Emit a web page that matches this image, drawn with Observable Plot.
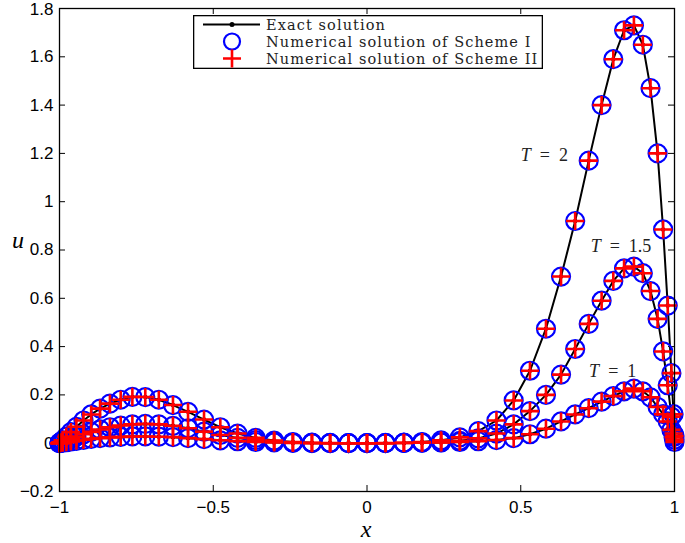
<!DOCTYPE html>
<html>
<head>
<meta charset="utf-8">
<script src="https://cdn.jsdelivr.net/npm/d3@7"></script>
<script src="https://cdn.jsdelivr.net/npm/@observablehq/plot@0.6"></script>
<style>
  body { margin: 0; background: #fff; }
  #wrap { position: relative; width: 685px; height: 543px; overflow: hidden; background: #fff; }
  .atitle { position: absolute; font-family: "Liberation Serif", "Times New Roman", serif; font-style: italic; font-size: 24px; line-height: 1; transform: translate(-50%, -50%); color: #000; }
  #legend { position: absolute; left: 193px; top: 15px; }
</style>
</head>
<body>
<div id="wrap"></div>
<script>
// ---- data ----
const xNodes = [-1, -0.997, -0.990, -0.978, -0.963, -0.945, -0.922, -0.897, -0.868, -0.836, -0.801, -0.763, -0.721,
  -0.677, -0.631, -0.582, -0.530, -0.477, -0.421, -0.362, -0.302, -0.241, -0.179, -0.120, -0.060, 0,
  0.060, 0.120, 0.179, 0.241, 0.302, 0.362, 0.421, 0.477, 0.530, 0.582, 0.631, 0.677, 0.721, 0.763,
  0.801, 0.836, 0.868, 0.897, 0.922, 0.945, 0.963, 0.978, 0.990, 0.997, 1];

const uT1 = [0, 0.001, 0.002, 0.004, 0.007, 0.010, 0.014, 0.018, 0.021, 0.024, 0.026, 0.028, 0.028,
  0.027, 0.025, 0.021, 0.017, 0.012, 0.008, 0.005, 0.003, 0.001, 0.000, 0.000, 0.000, 0,
  0.000, 0.001, 0.002, 0.003, 0.005, 0.008, 0.013, 0.021, 0.037, 0.060, 0.090, 0.119, 0.145, 0.172,
  0.195, 0.215, 0.226, 0.215, 0.190, 0.150, 0.120, 0.090, 0.055, 0.025, 0.005];

const uT15 = [0, 0.002, 0.005, 0.011, 0.018, 0.027, 0.037, 0.047, 0.057, 0.066, 0.073, 0.078, 0.080,
  0.078, 0.072, 0.062, 0.048, 0.034, 0.022, 0.013, 0.007, 0.003, 0.001, 0.000, 0.000, 0,
  0.000, 0.001, 0.002, 0.004, 0.010, 0.020, 0.040, 0.078, 0.133, 0.200, 0.284, 0.390, 0.494, 0.590,
  0.672, 0.724, 0.731, 0.704, 0.630, 0.515, 0.380, 0.240, 0.110, 0.040, 0.015];

const uT2 = [0, 0.004, 0.012, 0.027, 0.046, 0.068, 0.094, 0.119, 0.143, 0.164, 0.180, 0.192, 0.191,
  0.180, 0.158, 0.130, 0.098, 0.066, 0.040, 0.022, 0.011, 0.005, 0.002, 0.001, 0.000, 0,
  0.001, 0.002, 0.005, 0.012, 0.024, 0.050, 0.094, 0.177, 0.300, 0.474, 0.690, 0.920, 1.170, 1.400,
  1.590, 1.710, 1.730, 1.650, 1.470, 1.200, 0.885, 0.570, 0.290, 0.120, 0.030];

const seriesNames = ["1", "1.5", "2"];
const xTicks = [-1, -0.5, 0, 0.5, 1];
const yTicks = [-0.2, 0, 0.2, 0.4, 0.6, 0.8, 1, 1.2, 1.4, 1.6, 1.8];

const annotLabels = ["T = 1", "T = 1.5", "T = 2"];
const annotX = [0.799, 0.826, 0.577];
const annotY = [0.297, 0.814, 1.194];

const legendLabels = ["Exact solution", "Numerical solution of Scheme I", "Numerical solution of Scheme II"];

// ---- build ----
const W = 685, H = 543, mL = 59, mR = 11, mT = 8, mB = 52;
const innerW = W - mL - mR, innerH = H - mT - mB;
const serif = '"Liberation Serif", "Times New Roman", serif';
const legSerif = '"DejaVu Serif", "Liberation Serif", serif';
const fmt = d3.format("~g");

const rows = [];
[uT1, uT15, uT2].forEach((arr, k) => arr.forEach((u, i) => rows.push({T: seriesNames[k], x: xNodes[i], u})));
const annots = annotLabels.map((label, i) => ({label, x: annotX[i], y: annotY[i]}));

const chart = Plot.plot({
  width: W, height: H,
  marginLeft: mL, marginRight: mR, marginTop: mT, marginBottom: mB,
  style: {fontFamily: '"Liberation Sans", Arial, sans-serif', fontSize: "17px", background: "#fff", color: "#000", overflow: "visible"},
  x: {domain: [-1, 1]},
  y: {domain: [-0.2, 1.8]},
  marks: [
    Plot.tickX(xTicks, {x: d => d, insetTop: innerH - 6, stroke: "#000", strokeWidth: 1}),
    Plot.tickX(xTicks, {x: d => d, insetBottom: innerH - 6, stroke: "#000", strokeWidth: 1}),
    Plot.tickY(yTicks, {y: d => d, insetRight: innerW - 6, stroke: "#000", strokeWidth: 1}),
    Plot.tickY(yTicks, {y: d => d, insetLeft: innerW - 6, stroke: "#000", strokeWidth: 1}),
    Plot.axisX(xTicks, {tickSize: 0, tickPadding: 9, label: null, fontSize: 17, tickFormat: fmt}),
    Plot.axisY(yTicks, {tickSize: 0, tickPadding: 6, label: null, fontSize: 17, tickFormat: fmt}),
    Plot.line(rows, {x: "x", y: "u", z: "T", stroke: "#000", strokeWidth: 2}),
    Plot.dot(rows, {x: "x", y: "u", r: 2.2, fill: "#000"}),
    Plot.dot(rows, {x: "x", y: "u", r: 9, stroke: "#0000ff", strokeWidth: 2.2, fill: "none"}),
    Plot.dot(rows, {x: "x", y: "u", symbol: "plus", r: 5.9, stroke: "#ff0000", strokeWidth: 2.6}),
    Plot.frame({stroke: "#000", strokeWidth: 1.3}),
    Plot.text(annots, {x: "x", y: "y", text: "label", fontFamily: serif, fontSize: 18, textAnchor: "middle", fill: "#222"})
  ]
});

// italic T in annotations
d3.select(chart).selectAll('g[aria-label="text"] text').each(function() {
  const t = this.textContent;
  const rest = t.slice(1);
  this.textContent = "";
  const sel = d3.select(this);
  sel.append("tspan").attr("font-style", "italic").text(t[0]);
  sel.append("tspan").text(rest.replace(/ /g, "\u2002"));
});
// keep the top y label inside the picture
d3.select(chart).selectAll('g[aria-label="y-axis tick label"] text')
  .filter(function() { return this.textContent === "1.8"; })
  .attr("dy", function() { return (parseFloat(d3.select(this).attr("dy")) || 0) + 1.5; });

const wrap = document.getElementById("wrap");
wrap.appendChild(chart);

// axis titles
const ux = document.createElement("div");
ux.className = "atitle"; ux.textContent = "u"; ux.style.left = "18px"; ux.style.top = "240px";
wrap.appendChild(ux);
const xx = document.createElement("div");
xx.className = "atitle"; xx.textContent = "x"; xx.style.left = "366px"; xx.style.top = "529px";
wrap.appendChild(xx);

// legend
const lw = 350, lh = 54;
const leg = d3.create("svg").attr("id", "legend").attr("width", lw).attr("height", lh);
leg.append("rect").attr("x", 0.65).attr("y", 0.65).attr("width", lw - 1.3).attr("height", lh - 1.3)
  .attr("fill", "#fff").attr("stroke", "#000").attr("stroke-width", 1.3);
const rowY = [9.5, 26.5, 43.5];
leg.append("line").attr("x1", 10).attr("x2", 67).attr("y1", rowY[0]).attr("y2", rowY[0]).attr("stroke", "#000").attr("stroke-width", 2);
leg.append("circle").attr("cx", 39).attr("cy", rowY[0]).attr("r", 2.5).attr("fill", "#000");
leg.append("circle").attr("cx", 39).attr("cy", rowY[1]).attr("r", 8).attr("fill", "none").attr("stroke", "#0000ff").attr("stroke-width", 2.2);
leg.append("path").attr("d", `M30,${rowY[2]}H48M39,${rowY[2] - 9}V${rowY[2] + 9}`).attr("stroke", "#ff0000").attr("stroke-width", 2.6).attr("fill", "none");
legendLabels.forEach((s, i) => {
  leg.append("text").attr("x", 73).attr("y", rowY[i]).attr("dy", "0.36em")
    .attr("font-family", legSerif).attr("font-size", 14.5).attr("letter-spacing", "1.1px").attr("fill", "#222").text(s);
});
wrap.appendChild(leg.node());
</script>
</body>
</html>
